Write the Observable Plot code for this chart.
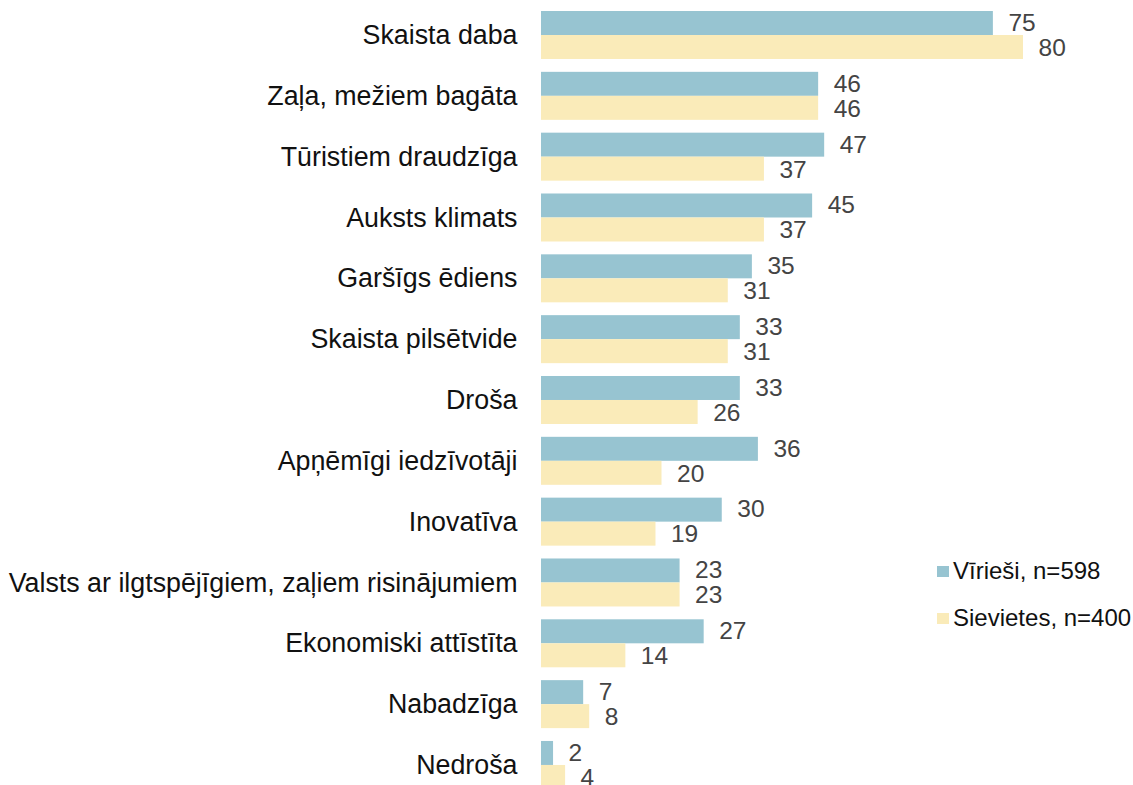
<!DOCTYPE html>
<html>
<head>
<meta charset="utf-8">
<script src="https://cdn.jsdelivr.net/npm/d3@7"></script>
<script src="https://cdn.jsdelivr.net/npm/@observablehq/plot@0.6"></script>
<style>
  html, body { margin: 0; padding: 0; background: #fff; }
  #wrap { position: relative; width: 1133px; height: 785px; overflow: hidden; font-family: "Liberation Sans", Arial, sans-serif; }
  .legend { position: absolute; left: 937px; font-size: 24px; color: #111; }
  .legend .item { position: absolute; white-space: nowrap; display: flex; align-items: center; }
  .legend .sw { width: 12px; height: 11px; margin-right: 4px; }
</style>
</head>
<body>
<div id="wrap"></div>
<script>
const categories = [
  "Skaista daba",
  "Zaļa, mežiem bagāta",
  "Tūristiem draudzīga",
  "Auksts klimats",
  "Garšīgs ēdiens",
  "Skaista pilsētvide",
  "Droša",
  "Apņēmīgi iedzīvotāji",
  "Inovatīva",
  "Valsts ar ilgtspējīgiem, zaļiem risinājumiem",
  "Ekonomiski attīstīta",
  "Nabadzīga",
  "Nedroša"
];
const men = [75, 46, 47, 45, 35, 33, 33, 36, 30, 23, 27, 7, 2];
const women = [80, 46, 37, 37, 31, 31, 26, 20, 19, 23, 14, 8, 4];
const seriesNames = ["Vīrieši, n=598", "Sievietes, n=400"];
const colors = ["#97C4D1", "#FAEBB9"];

const menData = categories.map((c, i) => ({cat: c, v: men[i]}));
const womenData = categories.map((c, i) => ({cat: c, v: women[i]}));

const chart = Plot.plot({
  width: 1133,
  height: 785,
  marginLeft: 541,
  marginRight: 0,
  marginTop: 0,
  marginBottom: 0,
  style: {fontFamily: "'Liberation Sans', Arial, sans-serif", fontSize: "26px", overflow: "visible"},
  x: {domain: [0, 80], range: [541, 1023], axis: null},
  y: {domain: categories, range: [-1.83, 801.8], padding: 0.211, round: false, label: null, axis: null},
  marks: [
    Plot.axisY({tickSize: 0, tickPadding: 24, fontSize: 26.8, fill: "#111", label: null}),
    Plot.barX(menData, {x: "v", y: "cat", fill: colors[0], insetBottom: 24}),
    Plot.barX(womenData, {x: "v", y: "cat", fill: colors[1], insetTop: 24}),
    Plot.text(menData, {x: "v", y: "cat", text: d => String(d.v), dx: 15, dy: -12.5, textAnchor: "start", fill: "#444", fontSize: 24.5}),
    Plot.text(womenData, {x: "v", y: "cat", text: d => String(d.v), dx: 15, dy: 12.5, textAnchor: "start", fill: "#444", fontSize: 24.5})
  ]
});

const wrap = document.getElementById("wrap");
wrap.appendChild(chart);

const legend = document.createElement("div");
legend.className = "legend";
legend.style.top = "0px";
seriesNames.forEach((name, i) => {
  const item = document.createElement("div");
  item.className = "item";
  item.style.top = (557 + i * 47) + "px";
  const sw = document.createElement("span");
  sw.className = "sw";
  sw.style.background = colors[i];
  const t = document.createElement("span");
  t.textContent = name;
  item.appendChild(sw);
  item.appendChild(t);
  legend.appendChild(item);
});
wrap.appendChild(legend);
</script>
</body>
</html>
